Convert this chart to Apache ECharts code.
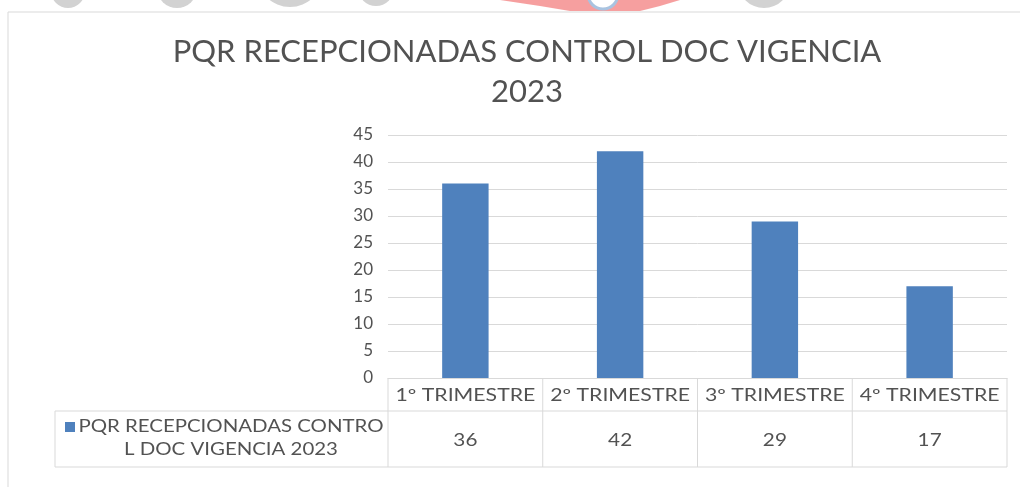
<!DOCTYPE html>
<html>
<head>
<meta charset="utf-8">
<script src="https://cdn.jsdelivr.net/npm/echarts@6/dist/echarts.min.js"></script>
<style>
  html, body { margin: 0; padding: 0; background: #ffffff; }
  #chart { width: 1020px; height: 487px; }
</style>
</head>
<body>
<div id="chart"></div>
<script>
// Chart content
const titleText = 'PQR RECEPCIONADAS CONTROL DOC VIGENCIA\n2023';
const categories = ['1º TRIMESTRE', '2º TRIMESTRE', '3º TRIMESTRE', '4º TRIMESTRE'];
const seriesName = 'PQR RECEPCIONADAS CONTROL DOC VIGENCIA 2023';
const legendLines = ['PQR RECEPCIONADAS CONTRO', 'L DOC VIGENCIA 2023'];
const values = [36, 42, 29, 17];
const yMin = 0;
const yMax = 45;
const yStep = 5;

const FONT = 'Lato, "Open Sans", sans-serif';
const TEXT = '#525252';
const LINE = '#d9d9d9';
const BAR = '#4f81bd';

const chart = echarts.init(document.getElementById('chart'), null, { renderer: 'canvas' });

const grid = { left: 388, right: 13, top: 135, bottom: 109 };

chart.setOption({
  animation: false,
  backgroundColor: '#ffffff',
  title: {
    text: titleText,
    left: 522,
    top: 27,
    textAlign: 'center',
    textStyle: { fontFamily: FONT, fontSize: 31, fontWeight: 'normal', color: TEXT, lineHeight: 40 }
  },
  grid: grid,
  xAxis: {
    type: 'category',
    data: categories,
    axisLine: { show: true, lineStyle: { color: LINE, width: 1 } },
    axisTick: { show: false },
    axisLabel: { show: false }
  },
  yAxis: {
    type: 'value',
    min: yMin,
    max: yMax,
    interval: yStep,
    axisLine: { show: false },
    axisTick: { show: false },
    axisLabel: { color: TEXT, fontFamily: FONT, fontSize: 17, margin: 15 },
    splitLine: { lineStyle: { color: LINE, width: 1 } }
  },
  series: [{
    name: seriesName,
    type: 'bar',
    data: values,
    barWidth: '30%',
    itemStyle: { color: BAR }
  }]
});

// Data table under the plot, laid out from the category axis
function buildTable() {
  const x0 = chart.convertToPixel({ xAxisIndex: 0 }, categories[0]);
  const x1 = chart.convertToPixel({ xAxisIndex: 0 }, categories[1]);
  const band = x1 - x0;
  const yZero = chart.convertToPixel({ yAxisIndex: 0 }, 0);
  const tableLeft = 55;
  const headTop = yZero;
  const rowTop = headTop + 33;
  const rowBottom = rowTop + 56;
  const plotLeft = x0 - band / 2;
  const plotRight = x0 + band * (categories.length - 0.5);

  const els = [];
  const line = (xa, ya, xb, yb) => els.push({
    type: 'line', silent: true,
    shape: { x1: xa, y1: ya, x2: xb, y2: yb },
    style: { stroke: LINE, lineWidth: 1 }
  });
  const label = (t, x, y, size, sx) => els.push({
    type: 'text', silent: true, x: x, y: y, scaleX: sx,
    style: { text: t, x: 0, y: 0, align: 'center', verticalAlign: 'middle',
             fill: TEXT, font: size + 'px ' + FONT }
  });

  line(tableLeft, rowTop, plotRight, rowTop);
  line(tableLeft, rowBottom, plotRight, rowBottom);
  line(tableLeft, rowTop, tableLeft, rowBottom);
  for (let i = 0; i <= categories.length; i++) {
    const bx = plotLeft + band * i;
    line(bx, headTop, bx, rowBottom);
  }

  categories.forEach((c, i) => {
    const cx = x0 + band * i;
    label(c, cx, (headTop + rowTop) / 2 + 1, 17, 1.25);
    label(String(values[i]), cx, (rowTop + rowBottom) / 2 + 1, 18, 1.15);
  });

  // Legend key and wrapped series name
  els.push({
    type: 'rect', silent: true,
    shape: { x: 65, y: rowTop + 11, width: 10, height: 10 },
    style: { fill: BAR }
  });
  legendLines.forEach((t, k) => label(t, 231, rowTop + 16 + k * 23, 17, 1.2));

  // Frame of the chart area
  line(8, 12, 1020, 12);
  line(8, 12, 8, 487);

  // Page header ornaments above the frame
  const gray = '#d2d2d2';
  [[68, -9, 17], [177, -12, 20], [290, -26, 33], [376, -12, 18], [764, -18, 26]].forEach(([cx, cy, r]) => {
    els.push({ type: 'circle', silent: true, shape: { cx: cx, cy: cy, r: r }, style: { fill: gray } });
  });
  els.push({
    type: 'polygon', silent: true,
    shape: { points: [[500, 0], [680, 0], [660, 6], [640, 11], [570, 11], [540, 6]] },
    style: { fill: 'rgba(238, 80, 80, 0.55)' }
  });
  els.push({
    type: 'circle', silent: true,
    shape: { cx: 603, cy: -6, r: 15 },
    style: { fill: '#ffffff', stroke: '#a9c3e0', lineWidth: 3 }
  });

  chart.setOption({ graphic: els });
}
buildTable();
</script>
</body>
</html>
